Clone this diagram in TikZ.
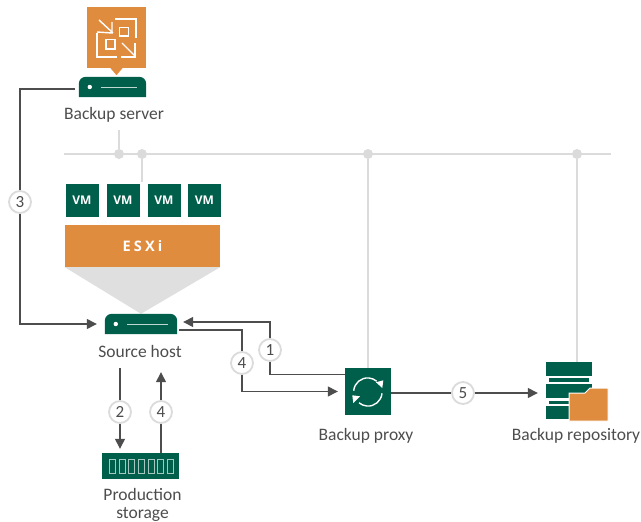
\documentclass[tikz,border=0pt]{standalone}
\usepackage{fontspec}
\setmainfont{Carlito}
\newfontfamily\iconfont{Open Sans}
\usepackage{xcolor}
\usetikzlibrary{arrows.meta,positioning,calc}
\definecolor{veeamgreen}{HTML}{005F4B}
\definecolor{veeamorange}{HTML}{E08C3F}
\definecolor{busgrey}{HTML}{DADBDA}
\definecolor{linegrey}{HTML}{4D4D4D}
\newcommand{\serverbody}[1]{%
  \fill[veeamgreen, rounded corners=7pt] (#1.south west) |- (#1.north east)
    [sharp corners] |- (#1.south west) -- cycle;
  \fill[white] ($(#1.west)+(11,0)$) circle (2.2);
  \draw[white!75!veeamgreen, line width=1pt] ($(#1.west)+(22,0)$) -- ($(#1.east)+(-9,0)$);
}

\begin{document}
\begin{tikzpicture}[
    x=1pt, y=-1pt,
    >={Triangle[length=10pt,width=10pt]},
    vmbox/.style={fill=veeamgreen, minimum width=33pt, minimum height=33pt,
                  inner sep=0pt, text=white, font=\iconfont\bfseries\fontsize{12}{14}\selectfont},
    srvbox/.style={minimum width=#1, minimum height=20pt, inner sep=0pt},
    label/.style={font=\fontsize{17.5}{18}\selectfont, text=linegrey, align=center, inner sep=0pt},
    num/.style={circle, draw=busgrey, line width=1.8pt, fill=white, minimum size=22pt,
                inner sep=0pt, text=linegrey, font=\fontsize{17}{18}\selectfont},
    arrow/.style={->, linegrey, line width=1.3pt},
    wire/.style={linegrey, line width=1.3pt},
    bus/.style={busgrey, line width=1.8pt},
    dot/.style={circle, fill=busgrey, minimum size=10pt, inner sep=0pt},
    glyph/.style={white, line width=1.4pt},
  ]
  \useasboundingbox (0,0) rectangle (641,522);

  % ── Backup server ──
  \node[fill=veeamorange, minimum width=59pt, minimum height=61pt, inner sep=0pt]
    at (116.5,37.5) (console) {};
  \fill[veeamorange] ($(console.south)+(-6,0)$) -- ($(console.south)+(6,0)$)
    -- ($(console.south)+(0,7)$) -- cycle;
  \draw[glyph] (115,19) -- (136,19) -- (136,38);
  \draw[glyph] (97,33) -- (97,57) -- (117,57);
  \draw[glyph] (119.5,27.5) rectangle (128.5,36);
  \draw[glyph] (106,39.5) rectangle (115,49);
  \draw[glyph] (99,20) -- (113,33);
  \draw[glyph] (112,22) -- (112,33) -- (97,32);
  \draw[glyph] (122,43) -- (135,56);
  \draw[glyph] (135,43) -- (135,57) -- (121,57);
  \node[srvbox=67pt] at (112.5,87) (srv) {};
  \serverbody{srv}
  \node[label] at (114,115) (srvlabel) {Backup server};

  % ── VMs and ESXi ──
  \node[vmbox] at (82,200.5) (vm1) {VM};
  \node[vmbox] at (123,200.5) (vm2) {VM};
  \node[vmbox] at (164,200.5) (vm3) {VM};
  \node[vmbox] at (204.5,200.5) (vm4) {VM};
  \node[fill=veeamorange, minimum width=155pt, minimum height=42pt, inner sep=0pt,
        text=white, font=\iconfont\bfseries\fontsize{14.5}{16}\selectfont]
    at (142.5,246) (esxi) {\addfontfeature{LetterSpace=22}ESXi};

  % ── Source host ──
  \node[srvbox=72pt] at (141,324) (host) {};
  \fill[busgrey!90!white] (esxi.south west) -- (esxi.south east) -- (host.north) -- cycle;
  \serverbody{host}
  \node[label] at (140,351) (hostlabel) {Source host};

  % ── Production storage ──
  \node[fill=veeamgreen, minimum width=77pt, minimum height=26pt, inner sep=0pt]
    at (140.5,466) (storage) {};
  \foreach \i in {0,...,6}
    \draw[white!65!veeamgreen, line width=1pt]
      ($(storage.center)+(-30.8+\i*9.6,-7)$) rectangle ($(storage.center)+(-24.8+\i*9.6,7)$);
  \node[label] at (142.5,504.5) (storagelabel) {Production\\storage};

  % ── Backup proxy ──
  \node[fill=veeamgreen, minimum width=46pt, minimum height=47pt, inner sep=0pt]
    at (368,391.5) (proxy) {};
  \draw[glyph] (353.7,390.7) arc[start angle=175, end angle=50, radius=14pt];
  \draw[glyph] (382,393.3) arc[start angle=-5, end angle=-130, radius=14pt];
  \fill[white] (376,382.3) -- (383.3,380.3) -- (382.3,388) -- cycle;
  \fill[white] (352.3,395.3) -- (360,396.3) -- (353.3,403) -- cycle;
  \node[label] at (366,436) (proxylabel) {Backup proxy};

  % ── Backup repository ──
  \node[minimum width=62pt, minimum height=60pt, inner sep=0pt]
    at (577,392) (repo) {};
  \fill[veeamgreen] (546,362) rectangle (592,376);
  \fill[veeamgreen] (549,378) rectangle (589,382);
  \fill[veeamgreen] (546,384) rectangle (592,398);
  \fill[veeamgreen] (549,401) rectangle (575,404);
  \fill[veeamgreen] (546,406) rectangle (575,419);
  \fill[veeamorange, draw=white, line width=1pt]
    (569,393) -- (585,393) -- (590,388) -- (608,388) -- (608,421) -- (569,421) -- cycle;
  \node[label] at (576,436) (repolabel) {Backup repository};

  % ── Network ──
  \node[dot] at (119,154) (dot1) {};
  \node[dot] at (142,154) (dot2) {};
  \node[dot] at (368,154) (dot3) {};
  \node[dot] at (577,154) (dot4) {};
  \draw[bus] (64,154) -- (611,154);
  \draw[bus] (dot1) -- ($(dot1 |- srv.south)+(0,33)$);
  \draw[bus] (dot2) -- ($(dot2 |- vm2.north)+(0,-2)$);
  \draw[bus] (dot3) -- (dot3 |- proxy.north);
  \draw[bus] (dot4) -- (dot4 |- repo.north);

  % ── Numbered steps ──
  \node[num] at (20,202) (n3) {3};
  \node[num] at (270,350) (n1) {1};
  \node[num] at (242,363) (n4a) {4};
  \node[num] at (120,412) (n2) {2};
  \node[num] at (161,412) (n4b) {4};
  \node[num] at (463,393) (n5) {5};

  % ── Arrows ──
  % Backup server → Source host
  \draw[wire, shorten <=4pt] ([yshift=-2pt]srv.west) -| (n3);
  \draw[arrow, shorten >=8pt] (n3) |- (host.west);
  % Backup proxy → Source host
  \draw[wire] ([yshift=17pt]proxy.west) -| (n1);
  \draw[arrow, shorten >=6pt] (n1) |- ([yshift=2pt]host.east);
  % Source host → Backup proxy
  \draw[wire, shorten <=2pt] ([yshift=-6pt]host.east) -| (n4a);
  \draw[arrow, shorten >=7pt] (n4a) |- (proxy.west);
  % Source host → Production storage
  \draw[wire] ($(n2 |- host.south)+(0,34)$) -- (n2);
  \draw[arrow, shorten >=4pt] (n2) -- (n2 |- storage.north);
  % Production storage → Source host
  \draw[arrow] (n4b) -- ($(n4b |- host.south)+(0,38)$);
  \draw[wire] (n4b |- storage.north) -- (n4b);
  % Backup proxy → Backup repository
  \draw[wire] (n5 -| proxy.east) -- (n5);
  \draw[arrow, shorten >=8pt] (n5) -- (n5 -| repo.west);
\end{tikzpicture}
\end{document}
